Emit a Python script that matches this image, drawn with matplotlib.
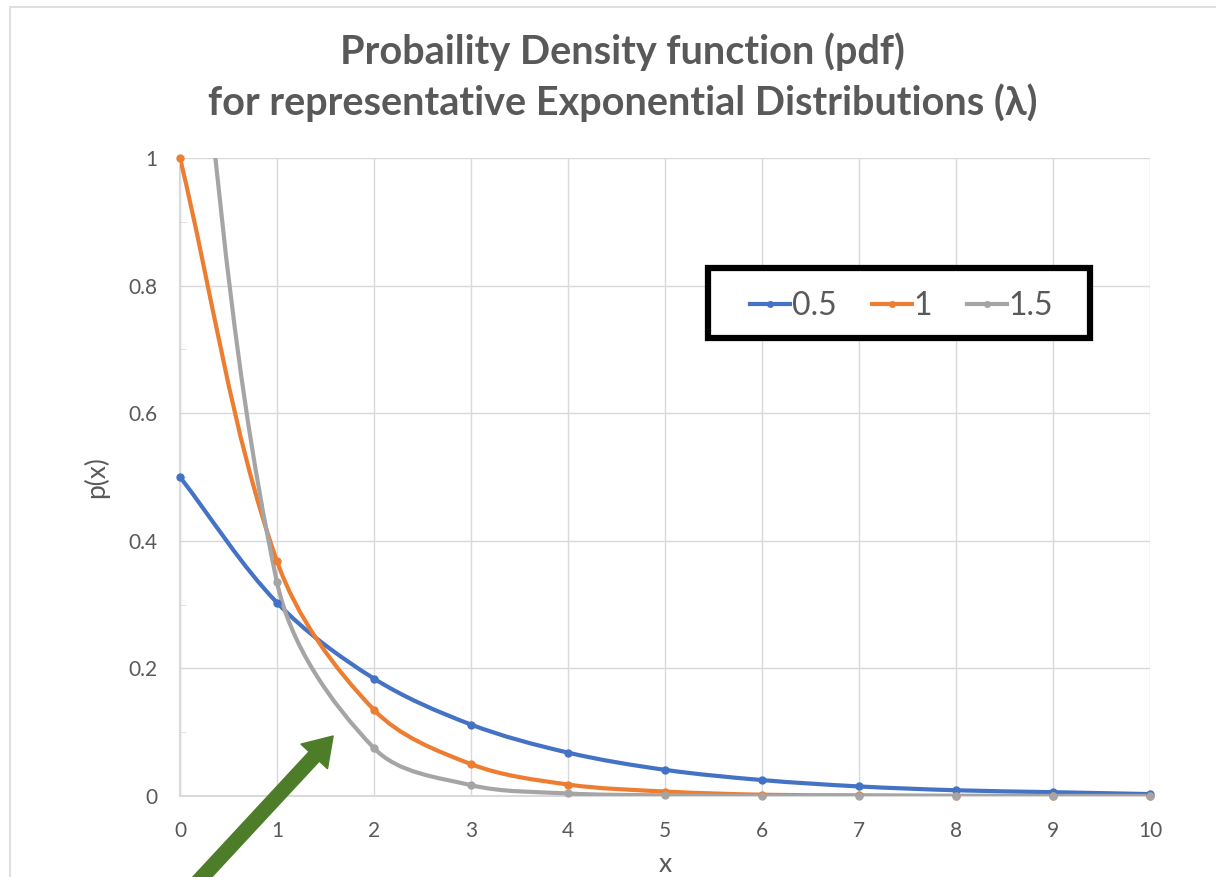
import numpy as np
import matplotlib.pyplot as plt
from matplotlib.path import Path
from matplotlib.patches import PathPatch, FancyArrowPatch, Rectangle, Shadow
from matplotlib.lines import Line2D

# values (p(x) = lambda * exp(-lambda x))
xs = [0, 1, 2, 3, 4, 5, 6, 7, 8, 9, 10]
p05 = [0.5, 0.303, 0.184, 0.112, 0.068, 0.041, 0.025, 0.015, 0.009, 0.006, 0.003]
p10 = [1.0, 0.368, 0.135, 0.050, 0.018, 0.007, 0.002, 0.001, 0.0003, 0.0001, 0.00005]
p15 = [1.5, 0.335, 0.075, 0.017, 0.004, 0.001, 0.0002, 0.0, 0.0, 0.0, 0.0]
labels = ['0.5', '1', '1.5']
colors = ['#4472C4', '#ED7D31', '#A5A5A5']

plt.rcParams['font.family'] = ['Lato', 'DejaVu Sans']
txt = '#595959'

fig = plt.figure(figsize=(12.16, 8.77), dpi=100)
ax = fig.add_axes([180/1216, 81/877, 970/1216, 638/877])
ax.set_xlim(0, 10)
ax.set_ylim(0, 1)

def smooth_path(x, y, sx=97.0, sy=638.0):
    # excel-like smoothed line, tangents worked out in screen scale
    x = np.asarray(x, float) * sx; y = np.asarray(y, float) * sy
    n = len(x)
    P = np.column_stack([x, y])
    T = []
    for i in range(n):
        d = P[min(i+1, n-1)] - P[max(i-1, 0)]
        T.append(d / np.hypot(*d))
    verts = [P[0]]; codes = [Path.MOVETO]
    for i in range(n - 1):
        L = np.hypot(*(P[i+1] - P[i])) / 3
        verts += [P[i] + T[i] * L, P[i+1] - T[i+1] * L, P[i+1]]
        codes += [Path.CURVE4] * 3
    verts = np.array(verts) / [sx, sy]
    return Path(verts, codes)

for ys, c in zip([p05, p10, p15], colors):
    ax.add_patch(PathPatch(smooth_path(xs, ys), fill=False, edgecolor=c, lw=3, capstyle='round', zorder=3))
    vx = [a for a, b in zip(xs, ys) if b <= 1]
    vy = [b for b in ys if b <= 1]
    ax.plot(vx, vy, 'o', color=c, ms=5, clip_on=False, zorder=4)

ax.set_xticks(range(0, 11))
ax.set_yticks([0, 0.2, 0.4, 0.6, 0.8, 1])
ax.set_yticklabels(['0', '0.2', '0.4', '0.6', '0.8', '1'])
ax.set_yticks(np.arange(0.1, 1.0, 0.2), minor=True)
ax.grid(True, color='#D9D9D9', lw=1)
ax.set_axisbelow(True)
for s in ['top', 'right']:
    ax.spines[s].set_visible(False)
for s in ['left', 'bottom']:
    ax.spines[s].set_color('#D9D9D9')
    ax.spines[s].set_linewidth(1.5)
ax.tick_params(axis='both', which='major', length=0, labelsize=15, labelcolor=txt)
ax.tick_params(axis='x', which='major', pad=18)
ax.tick_params(axis='y', which='major', pad=16)
ax.tick_params(axis='y', which='minor', direction='in', length=4, color='#D9D9D9')
ax.set_xlabel('x', fontsize=19, color=txt, labelpad=8)
ax.set_ylabel('p(x)', fontsize=19, color=txt, labelpad=14)

# legend box with black frame and shadow
box = Rectangle((0.544, 0.718), 0.394, 0.11, transform=ax.transAxes, facecolor='white',
                edgecolor='black', lw=4.5, zorder=6)
ax.add_patch(Shadow(box, 3, -3, zorder=5.5))
ax.add_patch(box)
handles = [Line2D([], [], color=c, lw=3, marker='o', ms=4) for c in colors]
leg = ax.legend(handles, labels, loc='center', bbox_to_anchor=(0.744, 0.768),
                ncol=3, fontsize=23, frameon=False,
                handlelength=1.25, handletextpad=0.05, columnspacing=1.1)
leg.set_zorder(7)
for t in leg.get_texts():
    t.set_color(txt)

fig.text(0.512, 0.912, 'Probaility Density function (pdf)\nfor representative Exponential Distributions (λ)',
         ha='center', va='center', fontsize=28.5, fontweight='bold', color=txt, linespacing=1.4)

# chart area border
fig.patches.append(Rectangle((10/1216, -0.1), 1.2, (877-7)/877 + 0.1, transform=fig.transFigure,
                             fill=False, edgecolor='#D9D9D9', lw=1.2))

arrow = FancyArrowPatch((193, -10), (335, 143), transform=None,
                        arrowstyle='simple,head_length=1.0,head_width=1.3,tail_width=0.5',
                        mutation_scale=20, color='#4E7D2A')
fig.patches.append(arrow)

fig.savefig('out.png', dpi=100)
